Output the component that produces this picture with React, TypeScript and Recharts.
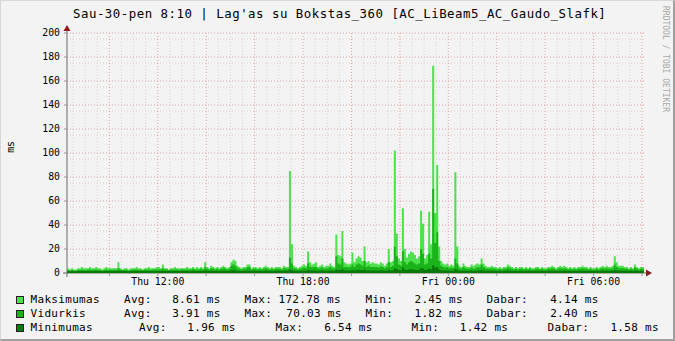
import { ComposedChart, Area, XAxis, YAxis, CartesianGrid, usePlotArea } from "recharts";

// 5 minute samples, Thu 08:15 -> Fri 08:05 (one row per hour)
const START = 8.25;
const STEP = 5 / 60;

const maxMs = [
  4, 3, 4, 3, 3, 4, 4, 5, 4,
  4, 4, 5, 4, 4, 5, 4, 4, 3, 4, 5, 4,
  4, 4, 4, 4, 9, 4, 3, 4, 4, 3, 4, 4,
  4, 5, 4, 4, 3, 4, 4, 5, 4, 4, 4, 5,
  5, 4, 7, 4, 4, 3, 4, 4, 5, 4, 4, 4,
  4, 4, 5, 4, 4, 5, 4, 5, 4, 5, 4, 9,
  5, 4, 6, 5, 4, 5, 4, 5, 6, 5, 4, 5,
  9, 11, 10, 6, 5, 4, 5, 5, 7, 7, 4, 5,
  5, 4, 5, 4, 5, 6, 5, 4, 5, 4, 5, 5,
  5, 4, 6, 5, 5, 85, 24, 6, 5, 4, 5, 6,
  7, 6, 18, 9, 7, 8, 9, 5, 6, 7, 5, 6,
  6, 8, 6, 5, 32, 15, 14, 35, 9, 8, 7, 8,
  17, 9, 12, 14, 13, 10, 22, 9, 10, 8, 9, 8,
  8, 7, 9, 8, 6, 8, 20, 9, 10, 102, 33, 12,
  10, 54, 20, 13, 16, 18, 17, 15, 12, 14, 52, 41,
  12, 15, 51, 24, 172.78, 50, 90, 22, 10, 8, 7, 8,
  6, 7, 6, 84, 22, 6, 5, 8, 6, 5, 5, 7,
  6, 7, 8, 7, 12, 8, 6, 5, 5, 6, 5, 5,
  4, 5, 4, 5, 5, 7, 6, 5, 4, 5, 4, 5,
  5, 4, 5, 4, 5, 4, 4, 5, 5, 4, 5, 4,
  4, 5, 5, 6, 5, 4, 5, 6, 5, 6, 5, 4,
  5, 4, 5, 4, 5, 5, 6, 5, 5, 4, 5, 4,
  4, 5, 4, 5, 6, 5, 6, 5, 5, 6, 14, 9,
  6, 6, 6, 5, 5, 4, 5, 4, 7, 5, 4, 5,
  5, 4,
];

const avgMs = [
  2.5, 2, 2.5, 2, 2, 2.5, 2.5, 3, 2.5,
  2.5, 3, 3, 2.5, 3, 3, 2.5, 2.5, 2, 2.5, 3, 2.5,
  3, 2.5, 3, 2.5, 4, 3, 2.5, 2.5, 3, 2, 2.5, 3,
  3, 3, 2.5, 3, 2.5, 3, 3, 3, 2.5, 3, 3, 3,
  3, 3, 4, 3, 3, 2.5, 3, 3, 3, 3, 2.5, 3,
  3, 3, 3, 3, 3, 3.5, 3, 3, 3, 3.5, 3, 5,
  3.5, 3, 4, 3.5, 3, 3.5, 3, 3.5, 4, 3.5, 3, 3.5,
  6, 7, 6, 4, 3.5, 3, 3.5, 3.5, 5, 5, 3, 3.5,
  3.5, 3, 3.5, 3, 3.5, 4, 3.5, 3, 3.5, 3, 3.5, 3.5,
  3.5, 3, 4, 3.5, 3.5, 13, 8, 4, 3.5, 3, 3.5, 4,
  4.5, 4, 8, 5, 4.5, 5, 5, 3.5, 4, 4.5, 3.5, 4,
  4, 5, 4, 3.5, 14, 8, 7, 12, 5, 5, 4.5, 5,
  7, 5, 7, 8, 7, 6, 10, 5, 6, 5, 5, 5,
  5, 4.5, 5.5, 5, 4, 5, 9, 5, 6, 22, 14, 7,
  6, 18, 9, 7, 9, 10, 9, 8, 7, 8, 20, 16,
  7, 8, 16, 12, 70.03, 25, 34, 10, 6, 5, 4.5, 5,
  4, 4.5, 4, 12, 8, 4, 3.5, 5, 4, 3.5, 3.5, 4.5,
  3.5, 4, 5, 4.5, 7, 5, 4, 3.5, 3.5, 4, 3.5, 3.5,
  3, 3.5, 3, 3.5, 3.5, 4.5, 4, 3.5, 3, 3.5, 3, 3.5,
  3.5, 3, 3.5, 3, 3.5, 3, 3, 3.5, 3.5, 3, 3.5, 3,
  3, 3.5, 3.5, 4, 3.5, 3, 3.5, 4, 3.5, 4, 3.5, 3,
  3.5, 3, 3.5, 3, 3.5, 3.5, 4, 3.5, 3.5, 3, 3.5, 3,
  3, 3.5, 3, 3.5, 4, 3.5, 4, 3.5, 3.5, 4, 7, 5,
  4, 4, 4, 3.5, 3.5, 3, 3.5, 3, 4.5, 3.5, 3, 3.5,
  3.5, 2.4,
];

const minMs = [
  1.6, 1.5, 1.6, 1.5, 1.5, 1.6, 1.6, 1.7, 1.6,
  1.6, 1.7, 1.7, 1.6, 1.7, 1.7, 1.6, 1.6, 1.5, 1.6, 1.7, 1.6,
  1.7, 1.6, 1.7, 1.6, 1.8, 1.7, 1.6, 1.6, 1.7, 1.5, 1.6, 1.7,
  1.7, 1.7, 1.6, 1.7, 1.6, 1.7, 1.7, 1.7, 1.6, 1.7, 1.7, 1.7,
  1.7, 1.7, 1.8, 1.7, 1.7, 1.6, 1.7, 1.7, 1.7, 1.7, 1.6, 1.7,
  1.7, 1.7, 1.7, 1.7, 1.7, 1.8, 1.7, 1.7, 1.7, 1.8, 1.7, 2,
  1.8, 1.7, 1.9, 1.8, 1.7, 1.8, 1.7, 1.8, 1.9, 1.8, 1.7, 1.8,
  2.2, 2.4, 2.2, 1.9, 1.8, 1.7, 1.8, 1.8, 2, 2, 1.7, 1.8,
  1.8, 1.7, 1.8, 1.7, 1.8, 1.9, 1.8, 1.7, 1.8, 1.7, 1.8, 1.8,
  1.8, 1.7, 1.9, 1.8, 1.8, 3, 2.4, 1.9, 1.8, 1.7, 1.8, 1.9,
  2, 1.9, 2.6, 2.1, 2, 2.1, 2.1, 1.8, 1.9, 2, 1.8, 1.9,
  1.9, 2.1, 1.9, 1.8, 3, 2.5, 2.4, 3.2, 2.1, 2.1, 2, 2.1,
  2.5, 2.1, 2.6, 2.8, 2.6, 2.3, 3, 2.1, 2.3, 2.1, 2.1, 2.1,
  2.1, 2, 2.2, 2.1, 1.9, 2.1, 2.8, 2.1, 2.3, 4, 3.4, 2.5,
  2.3, 4.5, 3, 2.6, 3, 3.2, 3, 2.8, 2.6, 2.8, 4.2, 3.8,
  2.6, 2.8, 3.8, 3.2, 6.54, 4.5, 5, 3, 2.3, 2.1, 2, 2.1,
  1.9, 2, 1.9, 3.5, 2.8, 1.9, 1.8, 2.1, 1.9, 1.8, 1.8, 2,
  1.8, 1.9, 2.1, 2, 2.6, 2.1, 1.9, 1.8, 1.8, 1.9, 1.8, 1.8,
  1.7, 1.8, 1.7, 1.8, 1.8, 2, 1.9, 1.8, 1.7, 1.8, 1.7, 1.8,
  1.8, 1.7, 1.8, 1.7, 1.8, 1.7, 1.7, 1.8, 1.8, 1.7, 1.8, 1.7,
  1.7, 1.8, 1.8, 1.9, 1.8, 1.7, 1.8, 1.9, 1.8, 1.9, 1.8, 1.7,
  1.8, 1.7, 1.8, 1.7, 1.8, 1.8, 1.9, 1.8, 1.8, 1.7, 1.8, 1.7,
  1.7, 1.8, 1.7, 1.8, 1.9, 1.8, 1.9, 1.8, 1.8, 1.9, 2.5, 2.1,
  1.9, 1.9, 1.9, 1.8, 1.8, 1.7, 1.8, 1.7, 2, 1.8, 1.7, 1.8,
  1.8, 1.58,
];

const yTicks = [0, 20, 40, 60, 80, 100, 120, 140, 160, 180, 200];
const yMinor = [5, 10, 15, 25, 30, 35, 45, 50, 55, 65, 70, 75, 85, 90, 95, 105, 110, 115, 125, 130, 135, 145, 150, 155, 165, 170, 175, 185, 190, 195];
const xTicks = [10, 12, 14, 16, 18, 20, 22, 24, 26, 28, 30, 32];
const xLabels: Record<number, string> = { 12: "Thu 12:00", 18: "Thu 18:00", 24: "Fri 00:00", 30: "Fri 06:00" };
const xMinor = [8.5, 9, 9.5, 10.5, 11, 11.5, 12.5, 13, 13.5, 14.5, 15, 15.5, 16.5, 17, 17.5, 18.5, 19, 19.5, 20.5, 21, 21.5, 22.5, 23, 23.5, 24.5, 25, 25.5, 26.5, 27, 27.5, 28.5, 29, 29.5, 30.5, 31, 31.5];

const legendNames = ["Maksimumas", "Vidurkis", "Minimumas"];
const legendAvg = ["8.61 ms", "3.91 ms", "1.96 ms"];
const legendMax = ["172.78 ms", "70.03 ms", "6.54 ms"];
const legendMin = ["2.45 ms", "1.82 ms", "1.42 ms"];
const legendCur = ["4.14 ms", "2.40 ms", "1.58 ms"];

const data = maxMs.map((v, i) => ({ t: START + i * STEP, max: v, avg: avgMs[i], min: minMs[i] }));

const LIGHT = "#4fe04f";
const MID = "#1ab41a";
const DARK = "#0a780a";
const COLORS = [LIGHT, MID, DARK];
const MONO = "'DejaVu Sans Mono', monospace";

const AxisArrows = () => {
  const area = usePlotArea();
  if (!area) return null;
  const { x, y, width, height } = area;
  const b = y + height;
  const r = x + width;
  return (
    <g>
      <line x1={x} y1={b + 4} x2={x} y2={y - 4} stroke="#6a6a6a" />
      <line x1={x - 4} y1={b} x2={r + 3} y2={b} stroke="#6a6a6a" />
      <polygon points={`${x - 3.5},${y - 2} ${x + 3.5},${y - 2} ${x},${y - 8}`} fill="#8c1c1c" />
      <polygon points={`${r + 2},${b - 3.5} ${r + 2},${b + 3.5} ${r + 8},${b}`} fill="#8c1c1c" />
    </g>
  );
};

// left edge of each legend column, per row
const cols = [
  [124, 172.2, 244.5, 278.5, 365.5, 414.5, 486.4, 550.2],
  [124, 172.2, 244.5, 286.3, 365.5, 414.5, 486.4, 550.2],
  [139, 187.3, 275.5, 324.2, 411.5, 459.8, 547.6, 610.4],
];
const legendText = { fontSize: 11, letterSpacing: 0.3, whiteSpace: "pre" as const, position: "absolute" as const };

const App = () => {
  return (
    <div
      style={{
        position: "absolute",
        left: 0,
        top: 0,
        width: 675,
        height: 341,
        background: "#f3f3f3",
        boxSizing: "border-box",
        borderStyle: "solid",
        borderWidth: "1px 2px 2px 1px",
        borderColor: "#d8d8d8 #a0a0a0 #a0a0a0 #d8d8d8",
        fontFamily: MONO,
        overflow: "hidden",
      }}
    >
      <div style={{ position: "absolute", left: 72, top: 5, fontSize: 12.4, letterSpacing: 0.5, color: "#000", whiteSpace: "pre" }}>
        Sau-30-pen 8:10 | Lag'as su Bokstas_360 [AC_LiBeam5_AC_Gaudo_Slafk]
      </div>
      <div
        style={{
          position: "absolute",
          left: 660,
          top: 5,
          fontSize: 8,
          color: "#a8a8a8",
          writingMode: "vertical-rl",
          whiteSpace: "pre",
        }}
      >
        RRDTOOL / TOBI OETIKER
      </div>
      <div
        style={{
          position: "absolute",
          left: 4,
          top: 140,
          fontSize: 9.8,
          writingMode: "vertical-rl",
          transform: "rotate(180deg)",
        }}
      >
        ms
      </div>
      <div style={{ position: "absolute", left: -1, top: -1 }}>
        <ComposedChart width={675} height={341} data={data} margin={{ top: 33, right: 31, bottom: 48, left: 17 }}>
          <CartesianGrid horizontal vertical horizontalValues={yMinor} verticalValues={xMinor} stroke="#d6d6d6" strokeDasharray="1 2" />
          <CartesianGrid horizontal vertical horizontalValues={yTicks.slice(1)} verticalValues={xTicks} stroke="#e3a3a3" strokeDasharray="1 2" />
          <XAxis
            type="number"
            dataKey="t"
            domain={[START, 32.0833]}
            allowDataOverflow
            ticks={xTicks}
            tickFormatter={(v: number) => xLabels[v] || ""}
            axisLine={false}
            tickLine={{ stroke: "#9a9a9a" }}
            tickSize={3}
            tickMargin={2}
            height={20}
            tick={{ fontSize: 9.8, fontFamily: MONO, fill: "#000" }}
          />
          <YAxis
            type="number"
            domain={[0, 200]}
            ticks={yTicks}
            axisLine={false}
            tickLine={{ stroke: "#9a9a9a" }}
            tickSize={3}
            tickMargin={4}
            width={50}
            tick={{ fontSize: 9.8, fontFamily: MONO, fill: "#000" }}
          />
          {/* max first, then avg and min drawn over it */}
          <Area type="stepAfter" dataKey="max" stroke="none" fill={LIGHT} fillOpacity={1} isAnimationActive={false} />
          <Area type="stepAfter" dataKey="avg" stroke="none" fill={MID} fillOpacity={1} isAnimationActive={false} />
          <Area type="stepAfter" dataKey="min" stroke="none" fill={DARK} fillOpacity={1} isAnimationActive={false} />
          <AxisArrows />
        </ComposedChart>
      </div>
      {legendNames.map((name, i) => {
        const center = 299 + i * 14;
        const c = cols[i];
        const items: [number, string][] = [
          [c[0], "Avg:"],
          [c[1], legendAvg[i]],
          [c[2], "Max:"],
          [c[3], legendMax[i]],
          [c[4], "Min:"],
          [c[5], legendMin[i]],
          [c[6], "Dabar:"],
          [c[7], legendCur[i]],
        ];
        return (
          <div key={name}>
            <div
              style={{
                position: "absolute",
                left: 14.5,
                top: center - 4.5,
                width: 6,
                height: 6,
                background: COLORS[i],
                border: "1px solid #222",
              }}
            />
            <div style={{ ...legendText, left: 29.6, top: center - 7.5 }}>{name}</div>
            {items.map(([x, s]) => (
              <div key={s + x} style={{ ...legendText, left: x - 1, top: center - 7.5 }}>
                {s}
              </div>
            ))}
          </div>
        );
      })}
    </div>
  );
};

export default App;
